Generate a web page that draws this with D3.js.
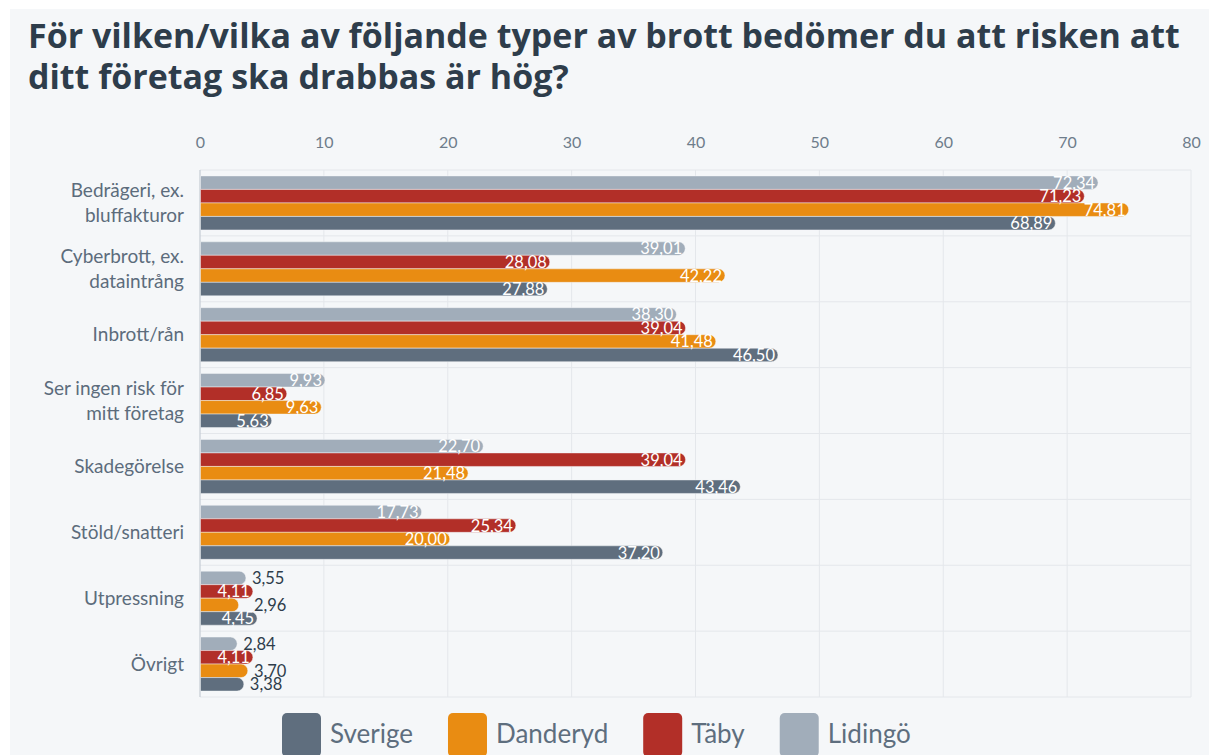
<!DOCTYPE html>
<html>
<head>
<meta charset="utf-8">
<script src="https://cdn.jsdelivr.net/npm/d3@7"></script>
<style>
  html, body { margin: 0; padding: 0; background: #ffffff; }
  svg { display: block; }
</style>
</head>
<body>
<svg id="chart" width="1209" height="755"></svg>
<script>
const titleLines = [
  "För vilken/vilka av följande typer av brott bedömer du att risken att",
  "ditt företag ska drabbas är hög?"
];
const categories = [
  ["Bedrägeri, ex.", "bluffakturor"],
  ["Cyberbrott, ex.", "dataintrång"],
  ["Inbrott/rån"],
  ["Ser ingen risk för", "mitt företag"],
  ["Skadegörelse"],
  ["Stöld/snatteri"],
  ["Utpressning"],
  ["Övrigt"]
];
const seriesNames = ["Sverige", "Danderyd", "Täby", "Lidingö"];
const sverige  = [68.89, 27.88, 46.50, 5.63, 43.46, 37.20, 4.45, 3.38];
const danderyd = [74.81, 42.22, 41.48, 9.63, 21.48, 20.00, 2.96, 3.70];
const taby     = [71.23, 28.08, 39.04, 6.85, 39.04, 25.34, 4.11, 4.11];
const lidingo  = [72.34, 39.01, 38.30, 9.93, 22.70, 17.73, 3.55, 2.84];
const xTicks = [0, 10, 20, 30, 40, 50, 60, 70, 80];

const seriesValues = { "Sverige": sverige, "Danderyd": danderyd, "Täby": taby, "Lidingö": lidingo };
const colors = { "Sverige": "#5f6e7e", "Danderyd": "#e98c12", "Täby": "#b22f28", "Lidingö": "#a1adba" };
const barOrder = ["Lidingö", "Täby", "Danderyd", "Sverige"];

const svg = d3.select("#chart");
const W = 1209, H = 755;
const plot = { left: 200, right: 1191, top: 170, bottom: 697 };

// panel background
svg.append("rect").attr("x", 10).attr("y", 9).attr("width", W - 10).attr("height", H - 9).attr("fill", "#f5f7f9");

// title
const titleG = svg.append("g");
const titleText = titleG.selectAll("text").data(titleLines).join("text")
  .attr("x", 28)
  .attr("y", (d, i) => 48 + i * 41)
  .attr("font-family", "'Open Sans', 'Noto Sans', sans-serif")
  .attr("font-weight", 700)
  .attr("font-size", 30)
  .attr("fill", "#2e3d4b")
  .text(d => d);
const firstLen = titleText.node().getComputedTextLength();
const fs = Math.min(34, 30 * 1152 / firstLen);
titleText.attr("font-size", fs);

const x = d3.scaleLinear().domain([0, 80]).range([plot.left, plot.right]);
const idx = d3.range(categories.length);
const y = d3.scaleBand().domain(idx).range([plot.top, plot.bottom]).paddingInner(0.18).paddingOuter(0.09);
const yi = d3.scaleBand().domain(barOrder).range([0, y.bandwidth()]).padding(0);

// grid
const grid = svg.append("g");
grid.selectAll("line.v").data(xTicks.slice(1)).join("line")
  .attr("x1", d => x(d)).attr("x2", d => x(d))
  .attr("y1", plot.top).attr("y2", plot.bottom)
  .attr("stroke", "#e4e7eb").attr("stroke-width", 1);
const step = y.step();
const hLines = d3.range(categories.length + 1).map(i => plot.top + i * step);
grid.selectAll("line.h").data(hLines).join("line")
  .attr("x1", plot.left).attr("x2", plot.right)
  .attr("y1", d => d).attr("y2", d => d)
  .attr("stroke", "#e4e7eb").attr("stroke-width", 1);
grid.append("line").attr("x1", plot.left).attr("x2", plot.left)
  .attr("y1", plot.top).attr("y2", plot.bottom)
  .attr("stroke", "#c5ccd3").attr("stroke-width", 1.2);

// top axis
const axis = d3.axisTop(x).tickValues(xTicks).tickSize(0).tickPadding(0);
const axG = svg.append("g").attr("transform", `translate(0,${148})`).call(axis);
axG.select(".domain").remove();
axG.selectAll("text")
  .attr("font-family", "Lato, 'Source Sans Pro', sans-serif")
  .attr("font-size", 16)
  .attr("fill", "#6e7d8b");

// y labels
const ylab = svg.append("g");
categories.forEach((lines, i) => {
  const cy = y(i) + y.bandwidth() / 2;
  const lh = 25;
  const t = ylab.append("text")
    .attr("text-anchor", "end")
    .attr("font-family", "Lato, 'Source Sans Pro', sans-serif")
    .attr("font-size", 19)
    .attr("fill", "#5c6c7c");
  lines.forEach((ln, j) => {
    t.append("tspan").attr("x", 184)
      .attr("y", cy + (j - (lines.length - 1) / 2) * lh)
      .attr("dy", "0.35em").text(ln);
  });
});

// bars
const fmt = v => v.toFixed(2).replace(".", ",");
const barH = yi.bandwidth();
const barsG = svg.append("g");
const labelsG = svg.append("g");
function pill(x0, xe, yy, h) {
  const r = Math.min(h / 2, (xe - x0));
  return `M${x0},${yy}H${xe - r}A${r},${r} 0 0 1 ${xe},${yy + r}V${yy + h - r}A${r},${r} 0 0 1 ${xe - r},${yy + h}H${x0}Z`;
}
idx.forEach(i => {
  let prevEnd = null;
  barOrder.forEach(name => {
    const v = seriesValues[name][i];
    const yy = y(i) + yi(name);
    const x0 = x(0) + 0.5;
    const xe = x(v) + 2;
    barsG.append("path")
      .attr("d", pill(x0, xe, yy, barH))
      .attr("fill", colors[name])
      .attr("stroke", "rgba(245,247,249,0.6)")
      .attr("stroke-width", 0.8);
    const inside = (xe - x0) > 50;
    const t = labelsG.append("text")
      .attr("y", yy + barH / 2)
      .attr("dy", "0.36em")
      .attr("font-family", "Lato, 'Source Sans Pro', sans-serif")
      .attr("font-size", 16.5)
      .text(fmt(v));
    if (inside) {
      t.attr("x", xe - 3).attr("text-anchor", "end").attr("fill", "#ffffff");
    } else {
      let lx = xe + 6;
      if (prevEnd !== null) lx = Math.max(lx, prevEnd + 1);
      t.attr("x", lx).attr("text-anchor", "start").attr("fill", "#2e3d4b");
    }
    prevEnd = xe;
  });
});

// legend
const legend = svg.append("g");
let lx = 282;
seriesNames.forEach(name => {
  legend.append("rect").attr("x", lx).attr("y", 713).attr("width", 39).attr("height", 44)
    .attr("rx", 5).attr("fill", colors[name]);
  const t = legend.append("text").attr("x", lx + 48).attr("y", 743)
    .attr("font-family", "Lato, 'Source Sans Pro', sans-serif")
    .attr("font-size", 26)
    .attr("fill", "#5e6e7e")
    .text(name);
  lx += 48 + t.node().getComputedTextLength() + 35;
});
</script>
</body>
</html>
